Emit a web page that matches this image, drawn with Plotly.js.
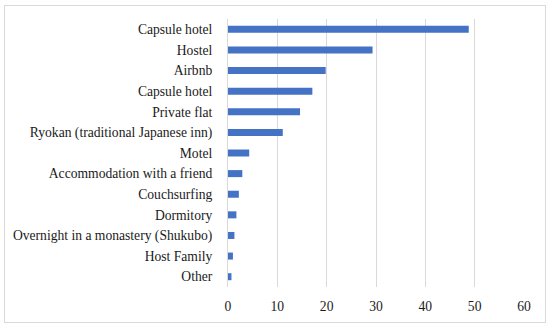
<!DOCTYPE html>
<html>
<head>
<meta charset="utf-8">
<script src="https://cdn.plot.ly/plotly-3.0.1.min.js"></script>
<style>
  html, body { margin: 0; padding: 0; background: #fff; }
  #wrap { position: relative; width: 550px; height: 328px; }
  #chart { width: 550px; height: 328px; }
  #frame { position: absolute; left: 4px; top: 5px; width: 540px; height: 316px; border: 1px solid #d9d9d9; pointer-events: none; }
</style>
</head>
<body>
<div id="wrap">
  <div id="chart"></div>
  <div id="frame"></div>
</div>
<script>
const categories = [
  "Capsule hotel",
  "Hostel",
  "Airbnb",
  "Capsule hotel",
  "Private flat",
  "Ryokan (traditional Japanese inn)",
  "Motel",
  "Accommodation with a friend",
  "Couchsurfing",
  "Dormitory",
  "Overnight in a monastery (Shukubo)",
  "Host Family",
  "Other"
];
const values = [48.8, 29.3, 19.8, 17.1, 14.6, 11.1, 4.3, 2.9, 2.2, 1.7, 1.3, 1.0, 0.7];
const xTicks = [0, 10, 20, 30, 40, 50, 60];

const positions = categories.map((c, i) => i);

const trace = {
  type: "bar",
  orientation: "h",
  x: values,
  y: positions,
  marker: { color: "#4472C4" },
  hoverinfo: "x"
};

const font = { family: "'Palatino Linotype', 'Book Antiqua', Palatino, 'Liberation Serif', serif", size: 13.6, color: "#1a1a1a" };

const layout = {
  width: 550,
  height: 328,
  margin: { l: 228, r: 26, t: 19, b: 41 },
  paper_bgcolor: "rgba(0,0,0,0)",
  plot_bgcolor: "#fff",
  showlegend: false,
  bargap: 0.66,
  font: font,
  xaxis: {
    range: [0, 60],
    tickvals: xTicks,
    ticktext: xTicks.map(String),
    showgrid: true,
    gridcolor: "#d9d9d9",
    gridwidth: 1,
    zeroline: false,
    showline: false,
    ticks: "outside",
    ticklen: 7,
    tickcolor: "rgba(0,0,0,0)",
    fixedrange: true
  },
  yaxis: {
    range: [12.5, -0.5],
    tickvals: positions,
    ticktext: categories,
    showgrid: false,
    zeroline: false,
    showline: true,
    linecolor: "#d9d9d9",
    linewidth: 1,
    ticks: "outside",
    ticklen: 12,
    tickcolor: "rgba(0,0,0,0)",
    fixedrange: true
  }
};

Plotly.newPlot("chart", [trace], layout, { displayModeBar: false, staticPlot: true });
</script>
</body>
</html>
